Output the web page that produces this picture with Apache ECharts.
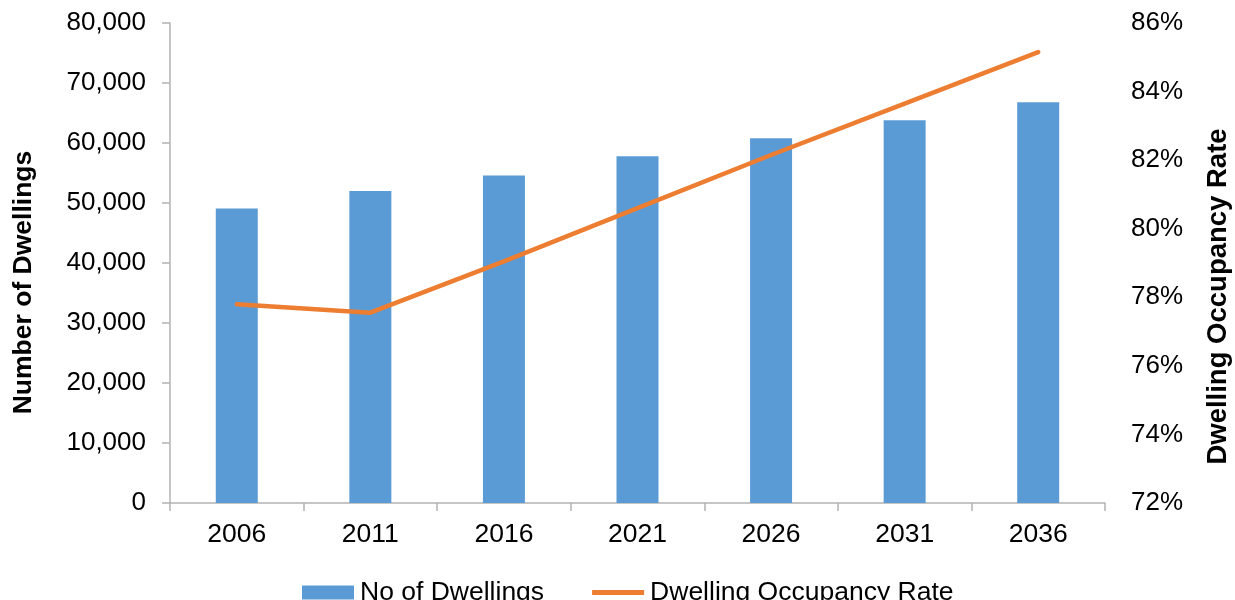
<!DOCTYPE html>
<html>
<head>
<meta charset="utf-8">
<script src="https://cdn.jsdelivr.net/npm/echarts@6/dist/echarts.min.js"></script>
<style>html,body{margin:0;padding:0;background:#fff}#c{width:1235px;height:600px}</style>
</head>
<body>
<div id="c"></div>
<script>
const years = ['2006','2011','2016','2021','2026','2031','2036'];
const dwellings = [49100, 52000, 54600, 57800, 60800, 63800, 66800];
const occupancyRate = [77.8, 77.55, 79.05, 80.6, 82.15, 83.65, 85.15];

const font = 'Liberation Sans, Arial, sans-serif';
const chart = echarts.init(document.getElementById('c'));
chart.setOption({
  animation: false,
  textStyle: { fontFamily: font },
  grid: { left: 170, right: 130, top: 23, bottom: 97, containLabel: false, outerBoundsMode: 'none' },
  legend: {
    top: 574, left: 297, itemGap: 48, padding: 5,
    itemWidth: 52, itemHeight: 14,
    textStyle: { fontSize: 26.5, color: '#000', fontFamily: font, padding: [0, 0, 0, 1] },
    data: [
      { name: 'No of Dwellings', icon: 'rect' },
      { name: 'Dwelling Occupancy Rate', icon: 'path://M0,0 L100,0 L100,10 L0,10 Z' }
    ]
  },
  xAxis: {
    type: 'category', data: years, boundaryGap: true,
    axisLine: { lineStyle: { color: '#b3b3b3', width: 1.5 } },
    axisTick: { show: true, length: 8, alignWithLabel: false, lineStyle: { color: '#b3b3b3', width: 1.5 } },
    axisLabel: { fontSize: 26.5, color: '#000', margin: 18, fontFamily: font }
  },
  yAxis: [
    {
      type: 'value', min: 0, max: 80000, interval: 10000,
      name: 'Number of Dwellings', nameLocation: 'middle', nameGap: 133, nameRotate: 90,
      nameTextStyle: { fontSize: 26.5, fontWeight: 'bold', color: '#000', fontFamily: font, padding: [0, 39, 0, 0] },
      axisLine: { show: true, lineStyle: { color: '#b3b3b3', width: 1.5 } },
      axisTick: { show: true, length: 8, lineStyle: { color: '#b3b3b3', width: 1.5 } },
      axisLabel: { fontSize: 26, color: '#000', margin: 24, fontFamily: font,
        formatter: v => v.toLocaleString('en-US') },
      splitLine: { show: false }
    },
    {
      type: 'value', min: 72, max: 86, interval: 2,
      name: 'Dwelling Occupancy Rate', nameLocation: 'middle', nameGap: 99, nameRotate: 90,
      nameTextStyle: { fontSize: 27.5, fontWeight: 'bold', color: '#000', fontFamily: font, padding: [0, 67, 0, 0] },
      axisLine: { show: false }, axisTick: { show: false },
      axisLabel: { fontSize: 26, color: '#000', margin: 26, fontFamily: font, formatter: v => v + '%' },
      splitLine: { show: false }
    }
  ],
  series: [
    {
      name: 'No of Dwellings', type: 'bar', data: dwellings, barWidth: 42,
      itemStyle: { color: '#5B9BD5' }
    },
    {
      name: 'Dwelling Occupancy Rate', type: 'line', yAxisIndex: 1, data: occupancyRate,
      symbol: 'none', lineStyle: { color: '#ED7D31', width: 4.5, cap: 'round', join: 'round' },
      itemStyle: { color: '#ED7D31' }
    }
  ]
});
</script>
</body>
</html>
